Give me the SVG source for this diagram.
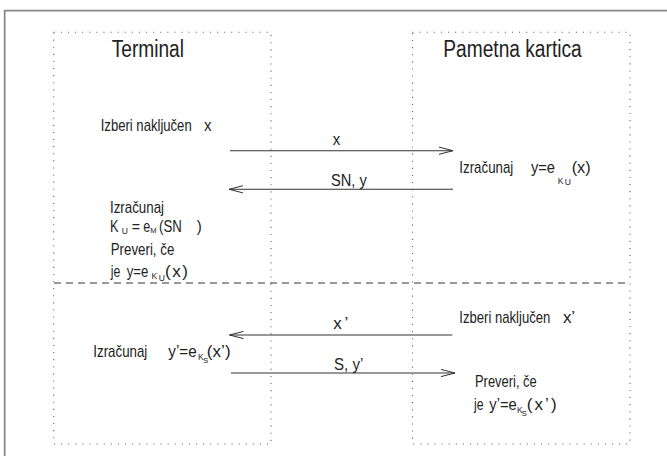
<svg xmlns="http://www.w3.org/2000/svg" width="667" height="456" viewBox="0 0 667 456">
<style>
.t{font-family:"Liberation Sans",Arial,sans-serif;font-size:17px;fill:#222}
.ti{font-size:23.5px}
.s{font-size:8.5px}
.ss{font-size:7.5px}
.box{fill:none;stroke:#666;stroke-width:1.1;stroke-dasharray:1.1 6}
.conn{stroke:#333;stroke-width:1.1;fill:none;marker-end:url(#ah)}
</style>
<defs>
<marker id="ah" markerUnits="userSpaceOnUse" markerWidth="16" markerHeight="10" viewBox="-15 -5 16 10" refX="0" refY="0" orient="auto" overflow="visible">
<path d="M-14,-3.6 L0,0 L-14,3.6" fill="none" stroke="#333" stroke-width="1"/>
</marker>
</defs>
<rect width="667" height="456" fill="#fff"/>
<path d="M4.7,460 V10.7 H670" fill="none" stroke="#888" stroke-width="1.8"/>
<line x1="54" y1="283" x2="630" y2="283" stroke="#333" stroke-width="1" stroke-dasharray="7 5"/>

<g id="terminal">
<rect class="box" x="53.7" y="32.3" width="217.3" height="411.7"/>
<text class="t ti" x="111.7" y="57.3" textLength="72.3" lengthAdjust="spacingAndGlyphs">Terminal</text>
<text class="t" x="100.7" y="130.5" textLength="91" lengthAdjust="spacingAndGlyphs">Izberi naključen</text>
<text class="t" x="204" y="130.5" textLength="7.5" lengthAdjust="spacingAndGlyphs">x</text>
<text class="t" x="110" y="213" textLength="54" lengthAdjust="spacingAndGlyphs">Izračunaj</text>
<text class="t" x="110" y="231.7" textLength="8.5" lengthAdjust="spacingAndGlyphs">K</text>
<text class="t s" x="121.7" y="233.8">U</text>
<text class="t" x="131.7" y="231.7" textLength="8.3" lengthAdjust="spacingAndGlyphs">=</text>
<text class="t" x="143.3" y="231.7" textLength="7" lengthAdjust="spacingAndGlyphs">e</text>
<text class="t ss" x="150.3" y="232.5">M</text>
<text class="t" x="159" y="231.7" textLength="22.7" lengthAdjust="spacingAndGlyphs">(SN</text>
<text class="t" x="196.7" y="231.7" textLength="5" lengthAdjust="spacingAndGlyphs">)</text>
<text class="t" x="110.7" y="255" textLength="63.6" lengthAdjust="spacingAndGlyphs">Preveri, če</text>
<text class="t" x="110.7" y="276.7" textLength="9.5" lengthAdjust="spacingAndGlyphs">je</text>
<text class="t" x="126.7" y="276.7" textLength="21.6" lengthAdjust="spacingAndGlyphs">y=e</text>
<text class="t s" x="151.5" y="279">K</text>
<text class="t s" x="158.8" y="280.8">U</text>
<text class="t" x="165" y="276.7" textLength="23" lengthAdjust="spacing">(x)</text>
<text class="t" x="93.3" y="356.7" textLength="54" lengthAdjust="spacingAndGlyphs">Izračunaj</text>
<text class="t" x="168.3" y="356.7" textLength="28.4" lengthAdjust="spacingAndGlyphs">y’=e</text>
<text class="t s" x="198" y="359.5">K</text>
<text class="t ss" x="203.3" y="363">S</text>
<text class="t" x="206.7" y="356.7" textLength="24" lengthAdjust="spacing">(x’)</text>
</g>

<g id="card">
<rect class="box" x="412.5" y="32.3" width="217.5" height="411.7"/>
<text class="t ti" x="443.3" y="57.3" textLength="138.4" lengthAdjust="spacingAndGlyphs">Pametna kartica</text>
<text class="t" x="459.3" y="173.3" textLength="54" lengthAdjust="spacingAndGlyphs">Izračunaj</text>
<text class="t" x="531" y="173.3" textLength="24" lengthAdjust="spacingAndGlyphs">y=e</text>
<text class="t s" x="557.8" y="183.5">K</text>
<text class="t s" x="564.8" y="185">U</text>
<text class="t" x="571.7" y="173.3" textLength="19" lengthAdjust="spacingAndGlyphs">(x)</text>
<text class="t" x="459.3" y="323.3" textLength="91" lengthAdjust="spacingAndGlyphs">Izberi naključen</text>
<text class="t" x="563" y="323.3" textLength="12" lengthAdjust="spacing">x’</text>
<text class="t" x="475" y="386.7" textLength="61.7" lengthAdjust="spacingAndGlyphs">Preveri, če</text>
<text class="t" x="474" y="410" textLength="9.5" lengthAdjust="spacingAndGlyphs">je</text>
<text class="t" x="489.3" y="410" textLength="27.4" lengthAdjust="spacingAndGlyphs">y’=e</text>
<text class="t s" x="517" y="412.5">K</text>
<text class="t ss" x="521.7" y="416">S</text>
<text class="t" x="526.7" y="410" textLength="30" lengthAdjust="spacing">(x’)</text>
</g>

<g id="connectors">
<line class="conn" x1="230" y1="150.7" x2="453" y2="150.7"/>
<text class="t" x="332.7" y="145" textLength="7.5" lengthAdjust="spacingAndGlyphs">x</text>
<line class="conn" x1="453" y1="189.3" x2="229" y2="189.3"/>
<text class="t" x="331" y="185.5" textLength="35.7" lengthAdjust="spacingAndGlyphs">SN, y</text>
<line class="conn" x1="452.3" y1="335" x2="229.5" y2="335"/>
<text class="t" x="333.3" y="329.3" textLength="15" lengthAdjust="spacing">x’</text>
<line class="conn" x1="231" y1="373" x2="455" y2="373"/>
<text class="t" x="334" y="370" textLength="29.3" lengthAdjust="spacingAndGlyphs">S, y’</text>
</g>
</svg>
